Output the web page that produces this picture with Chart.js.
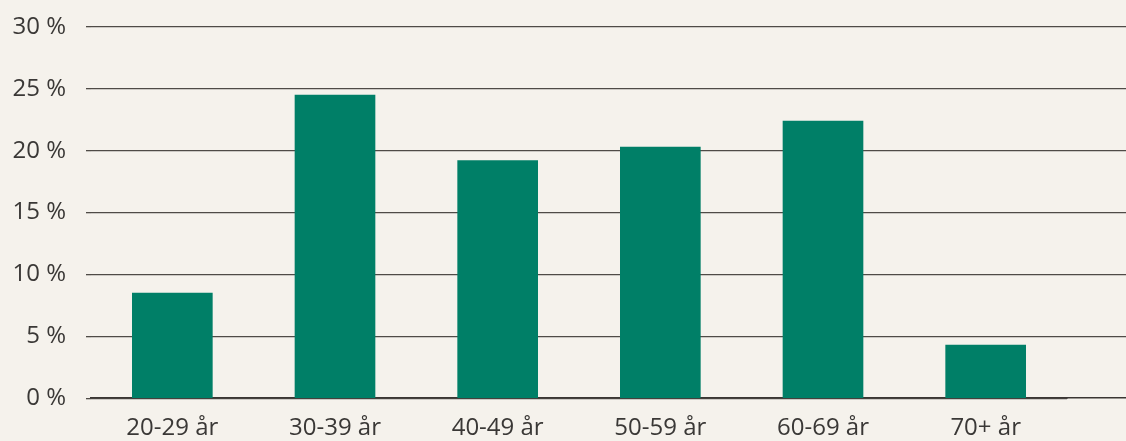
<!DOCTYPE html>
<html>
<head>
<meta charset="utf-8">
<script src="https://cdn.jsdelivr.net/npm/chart.js@4/dist/chart.umd.min.js"></script>
<style>
  html, body { margin: 0; padding: 0; background: #f5f2ec; }
  #wrap { width: 1126px; height: 441px; }
</style>
</head>
<body>
<div id="wrap"><canvas id="chart" width="1126" height="441"></canvas></div>
<script>
const categories = ["20-29 år", "30-39 år", "40-49 år", "50-59 år", "60-69 år", "70+ år"];
const shares = [8.5, 24.5, 19.2, 20.3, 22.4, 4.3];
const yTicks = [0, 5, 10, 15, 20, 25, 30];

const gridColor = "#4f4b47";
const axisColor = "#3a3633";
const gridWidth = 1.3;
const textColor = "#3a3836";
const fontFamily = "'Open Sans', sans-serif";

// gridlines run past the last bar to the right edge
const extendGrid = {
  id: "extendGrid",
  beforeDatasetsDraw(chart) {
    const { ctx, chartArea, scales } = chart;
    ctx.save();
    yTicks.forEach((t) => {
      const w = t === 0 ? 1.5 : gridWidth;
      const half = w / 2;
      const y = Math.round(scales.y.getPixelForValue(t) - half) + half;
      ctx.strokeStyle = t === 0 ? axisColor : gridColor;
      ctx.lineWidth = w;
      ctx.beginPath();
      ctx.moveTo(chartArea.right, y);
      ctx.lineTo(chart.width, y);
      ctx.stroke();
    });
    ctx.restore();
  },
};

new Chart(document.getElementById("chart"), {
  type: "bar",
  data: {
    labels: categories,
    datasets: [
      {
        data: shares,
        backgroundColor: "#007f67",
        barThickness: 80,
      },
    ],
  },
  options: {
    responsive: false,
    animation: false,
    layout: { padding: { top: 27, right: 59, bottom: -10, left: 0 } },
    plugins: { legend: { display: false }, tooltip: { enabled: false } },
    scales: {
      x: {
        grid: { display: false },
        border: { display: true, color: axisColor, width: 1.5 },
        ticks: {
          color: textColor,
          font: { family: fontFamily, size: 24 },
          padding: 8,
          maxRotation: 0,
        },
      },
      y: {
        min: 0,
        max: 30,
        afterFit(scale) {
          scale.width = 91;
          scale.paddingTop = 0;
        },
        afterBuildTicks(scale) {
          scale.ticks = yTicks.map((v) => ({ value: v }));
        },
        grid: { color: gridColor, lineWidth: gridWidth, tickLength: 5 },
        border: { display: false },
        ticks: {
          color: textColor,
          font: { family: fontFamily, size: 24 },
          padding: 20,
          callback: (v) => v + " %",
        },
      },
    },
  },
  plugins: [extendGrid],
});
</script>
</body>
</html>
